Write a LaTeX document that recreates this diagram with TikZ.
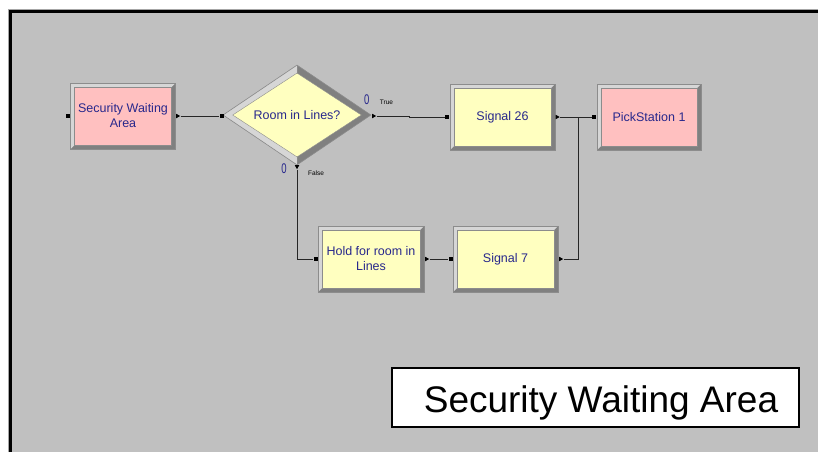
\documentclass[tikz,border=0pt]{standalone}
\usepackage{fontspec}
\setmainfont{Liberation Sans}
\usetikzlibrary{shapes.geometric,arrows.meta,calc}

\definecolor{canvas}{RGB}{192,192,192}
\definecolor{facepink}{RGB}{255,192,192}
\definecolor{faceyellow}{RGB}{255,255,192}
\definecolor{bevlight}{RGB}{214,214,214}
\definecolor{bevdark}{RGB}{128,128,128}
\definecolor{bevedge}{RGB}{140,140,140}
\definecolor{modtext}{RGB}{40,40,140}

\tikzset{
  % rectangular module with a raised bevel
  module/.style={rectangle, minimum width=105pt, minimum height=66pt, inner sep=0pt,
    align=center, text=modtext, font=\fontsize{12.5}{15}\selectfont,
    draw=bevedge, line width=0.6pt,
    path picture={
      \fill[bevdark] (path picture bounding box.south west) rectangle (path picture bounding box.north east);
      \fill[bevlight] (path picture bounding box.south west) -- (path picture bounding box.north west)
        -- (path picture bounding box.north east) -- ([xshift=-4pt,yshift=-4pt]path picture bounding box.north east)
        -- ([xshift=4pt,yshift=-4pt]path picture bounding box.north west)
        -- ([xshift=4pt,yshift=4pt]path picture bounding box.south west) -- cycle;
      \fill[#1, draw=bevedge, line width=0.4pt] ([xshift=4pt,yshift=4pt]path picture bounding box.south west)
        rectangle ([xshift=-4pt,yshift=-4pt]path picture bounding box.north east);
    }},
  % decision diamond with the same bevel
  decision/.style={diamond, shape aspect=1.54, minimum width=148pt, minimum height=100pt, inner sep=0pt,
    text=modtext, font=\fontsize{12.5}{15}\selectfont,
    draw=bevedge, line width=0.6pt,
    path picture={
      \fill[bevdark] (path picture bounding box.south west) rectangle (path picture bounding box.north east);
      \fill[bevlight] (path picture bounding box.north) -- (path picture bounding box.west)
        -- (path picture bounding box.south) -- cycle;
      \fill[#1, draw=bevedge, line width=0.4pt]
        ($(path picture bounding box.center)!0.84!(path picture bounding box.north)$) --
        ($(path picture bounding box.center)!0.87!(path picture bounding box.east)$) --
        ($(path picture bounding box.center)!0.84!(path picture bounding box.south)$) --
        ($(path picture bounding box.center)!0.87!(path picture bounding box.west)$) -- cycle;
    }},
  entrypt/.style={rectangle, fill=black, minimum size=4pt, inner sep=0pt},
  exitpt/.style={isosceles triangle, isosceles triangle stretches, fill=black,
    minimum height=4pt, minimum width=4.5pt, inner sep=0pt},
  flow/.style={draw=black!85, line width=0.8pt},
  countlbl/.style={text=modtext, font=\fontsize{14}{14}\selectfont, xscale=0.68, inner sep=0pt},
  branchlbl/.style={text=black, font=\fontsize{6.5}{7}\selectfont, inner sep=0pt},
  titlebox/.style={rectangle, draw=black, line width=2.2pt, fill=white,
    minimum width=407pt, minimum height=59pt, inner sep=0pt},
}

\begin{document}
\begin{tikzpicture}[x=1pt, y=-1pt]
  \useasboundingbox (0,0) rectangle (818,452);

  % canvas and window frame
  \fill[white] (0,0) rectangle (818,452);
  \fill[canvas] (9,10) rectangle (818,452);
  \draw[black!35, line width=0.8pt] (8.4,452) -- (8.4,9.4) -- (818,9.4);
  \draw[black, line width=3pt] (10.5,452) -- (10.5,11.5) -- (818,11.5);

  % modules
  \node[module=facepink] (swa) at (123,116) {Security Waiting\\Area};
  \node[decision=faceyellow] (dec) at (297,115) {Room in Lines?};
  \node[module=faceyellow] (s26) at (502.5,117) {Signal 26};
  \node[module=facepink, minimum width=104pt] (pick) at (649,117) {PickStation 1};
  \node[module=faceyellow, minimum width=106pt] (hold) at (371,259) {Hold for room in\\Lines};
  \node[module=faceyellow] (s7) at (505.5,259) {Signal 7};

  % entry and exit points
  \node[entrypt] (swa-in) at (68,116) {};
  \node[exitpt] (swa-out) at (177.5,116) {};
  \node[entrypt] (dec-in) at (221.5,116) {};
  \node[exitpt] (dec-t) at (373.5,116) {};
  \node[exitpt, shape border rotate=270] (dec-f) at (297,166.5) {};
  \node[entrypt] (s26-in) at (447,117) {};
  \node[exitpt] (s26-out) at (557,117) {};
  \node[entrypt] (pick-in) at (594,117) {};
  \node[entrypt] (hold-in) at (315.5,259) {};
  \node[exitpt] (hold-out) at (426.5,259) {};
  \node[entrypt] (s7-in) at (450.5,259) {};
  \node[exitpt] (s7-out) at (560.5,259) {};
  \coordinate (jn) at (578,117);

  % connectors
  \draw[flow] (swa-out) -- (dec-in);
  \draw[flow] (dec-t) -- ++(36,0) |- (s26-in);
  \draw[flow] (dec-f) |- (hold-in);
  \draw[flow] (hold-out) -- (s7-in);
  \draw[flow] (s26-out) -- (pick-in);
  \draw[flow] (s7-out) -| (jn);

  % branch labels and counters
  \node[countlbl] (cnt-t) at (366.7,100) {0};
  \node[countlbl] (cnt-f) at (284,168.3) {0};
  \node[branchlbl] (lbl-t) at (386.5,102.7) {True};
  \node[branchlbl] (lbl-f) at (316,172.7) {False};

  % title
  \node[titlebox] (ttl) at (595.5,397.5) {};
  \node[anchor=base, font=\fontsize{37}{44}\selectfont, inner sep=0pt] (ttl-text) at (601,412) {Security Waiting Area};
\end{tikzpicture}
\end{document}
